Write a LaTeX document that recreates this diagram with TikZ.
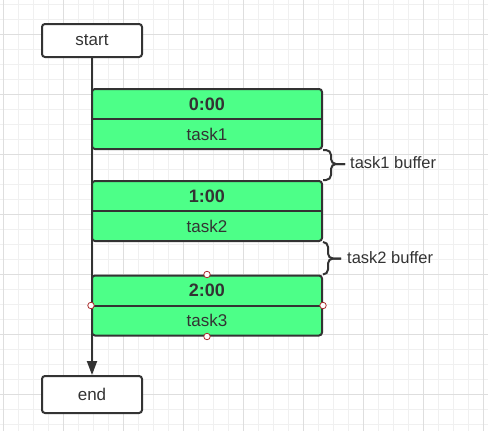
\documentclass[tikz,border=0pt]{standalone}
\usepackage{fontspec}
\setmainfont{Liberation Sans}
\usepackage{tikz}
\usetikzlibrary{arrows.meta}

\definecolor{inkgray}{HTML}{333333}
\definecolor{taskgreen}{RGB}{77,255,136}
\definecolor{gridminor}{RGB}{240,240,240}
\definecolor{gridmajor}{RGB}{222,222,222}
\definecolor{handlered}{RGB}{170,45,45}

\tikzset{
    box/.style={draw=inkgray, line width=2pt, rounded corners=3pt, fill=white, minimum width=100pt, inner sep=0pt, text=inkgray, font=\fontsize{17}{20}\selectfont},
    slot/.style={draw=inkgray, line width=2pt, rounded corners=3pt, fill=taskgreen, minimum width=230pt, minimum height=60pt, inner sep=0pt},
    celltext/.style={text=inkgray, inner sep=0pt, font=\fontsize{17}{20}\selectfont},
    timetext/.style={text=inkgray, inner sep=0pt, font=\fontsize{18}{20}\selectfont\bfseries},
    bracetext/.style={text=inkgray, inner sep=0pt, anchor=west, font=\fontsize{16.5}{20}\selectfont},
    brace/.style={draw=inkgray, line width=2pt, rounded corners=5pt},
    handle/.style={circle, draw=handlered, fill=white, line width=0.8pt, minimum size=6.5pt, inner sep=0pt}
}

\begin{document}
\begin{tikzpicture}[x=1pt, y=-1pt]
        \useasboundingbox (0,0) rectangle (488,431);
        \fill[white] (0,0) rectangle (488,431);
        % background grid
        \foreach \i in {0,...,32} \draw[gridminor, line width=1pt] ({3.3+15*\i},0) -- ({3.3+15*\i},431);
        \foreach \j in {0,...,28} \draw[gridminor, line width=1pt] (0,{4.3+15*\j}) -- (488,{4.3+15*\j});
        \foreach \i in {0,...,8} \draw[gridmajor, line width=1pt] ({3.3+60*\i},0) -- ({3.3+60*\i},431);
        \foreach \j in {0,...,6} \draw[gridmajor, line width=1pt] (0,{34.3+60*\j}) -- (488,{34.3+60*\j});

        \node[box, minimum height=33pt] (start) at (92,40.5) {start};
        \node[box, minimum height=37pt] (end) at (92,394.5) {end};
        \draw[inkgray, line width=2pt, -{Triangle[length=14pt, width=10pt]}] (start) -- (end);

        % time slots
        \node[slot] (slot1) at (207,119) {};
        \draw[inkgray, line width=2pt] (slot1.west) -- (slot1.east);
        \node[timetext] (time1) at (207,104) {0:00};
        \node[celltext] (task1) at (207,134) {task1};

        \node[slot] (slot2) at (207,211) {};
        \draw[inkgray, line width=2pt] (slot2.west) -- (slot2.east);
        \node[timetext] (time2) at (207,196) {1:00};
        \node[celltext] (task2) at (207,226) {task2};

        \node[slot] (slot3) at (207,305.5) {};
        \draw[inkgray, line width=2pt] (slot3.west) -- (slot3.east);
        \node[timetext] (time3) at (207,290.5) {2:00};
        \node[celltext] (task3) at (207,320.5) {task3};

        % buffers
        \coordinate (tip1) at (345,164);
        \draw[brace] (slot1.south east) -| (331,164) -- (tip1);
        \draw[brace] (slot2.north east) -| (331,164) -- (tip1);
        \node[bracetext] (buf1) at (350,163) {task1 buffer};

        \coordinate (tip2) at (341,258.5);
        \draw[brace] (slot2.south east) -| (328,258.5) -- (tip2);
        \draw[brace] (slot3.north east) -| (328,258.5) -- (tip2);
        \node[bracetext] (buf2) at (347,258) {task2 buffer};

        % selection handles
        \node[handle] (hn) at (slot3.north) {};
        \node[handle] (hw) at (slot3.west) {};
        \node[handle] (he) at (slot3.east) {};
        \node[handle] (hs) at (slot3.south) {};
    \end{tikzpicture}
\end{document}
